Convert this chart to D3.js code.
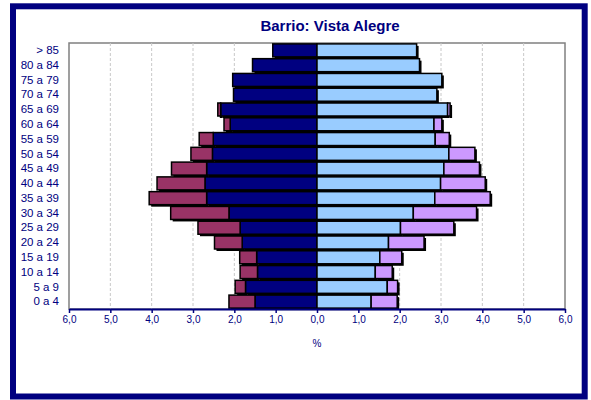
<!DOCTYPE html>
<html><head><meta charset="utf-8">
<script src="https://cdn.jsdelivr.net/npm/d3@7"></script>
<style>body{margin:0;background:#fff}svg{display:block}</style>
</head><body>
<svg id="c" width="591" height="400"></svg>
<script>
const categories = ["> 85","80 a 84","75 a 79","70 a 74","65 a 69","60 a 64","55 a 59","50 a 54","45 a 49","40 a 44","35 a 39","30 a 34","25 a 29","20 a 24","15 a 19","10 a 14","5 a 9","0 a 4"];
const menNational   = [1.07,1.56,2.04,2.02,2.33,2.10,2.51,2.53,2.67,2.71,2.67,2.13,1.86,1.81,1.46,1.44,1.73,1.50];
const menForeign    = [0,0,0,0,0.07,0.15,0.34,0.52,0.85,1.16,1.39,1.41,1.02,0.67,0.41,0.42,0.25,0.63];
const womenNational = [2.41,2.48,3.02,2.90,3.16,2.83,2.86,3.19,3.07,2.99,2.85,2.33,2.02,1.73,1.52,1.41,1.70,1.31];
const womenForeign  = [0,0,0,0,0.06,0.19,0.34,0.63,0.86,1.08,1.34,1.53,1.29,0.86,0.53,0.41,0.25,0.63];
const xTicks = [-6,-5,-4,-3,-2,-1,0,1,2,3,4,5,6];
const title = "Barrio: Vista Alegre";
const xTitle = "%";

const navy = "#000080";
const svg = d3.select("#c");
const L = 69, R = 565, T = 43, B = 309;
const x = d3.scaleLinear().domain([-6,6]).range([L,R]);
const y = d3.scaleBand().domain(categories).range([T,B]).paddingInner(0.12).paddingOuter(0.06);

// outer frame
svg.append("rect").attr("x",13).attr("y",6.3).attr("width",571.7).attr("height",390.2)
  .attr("fill","#fff").attr("stroke",navy).attr("stroke-width",6);

// plot area
svg.append("rect").attr("x",L).attr("y",T).attr("width",R-L).attr("height",B-T)
  .attr("fill","#fff").attr("stroke","#808080").attr("stroke-width",1.5);

// gridlines
svg.append("g").selectAll("line").data(xTicks.filter(v=>v>-6&&v<6&&v!==0)).join("line")
  .attr("x1",d=>x(d)).attr("x2",d=>x(d)).attr("y1",T).attr("y2",B)
  .attr("stroke","#c8c8c8").attr("stroke-width",1).attr("stroke-dasharray","3,2");

// segments
const segs = [];
categories.forEach((c,i)=>{
  segs.push({c, x0:-menNational[i], x1:0, fill:navy});
  if(menForeign[i]>0) segs.push({c, x0:-(menNational[i]+menForeign[i]), x1:-menNational[i], fill:"#993366"});
  segs.push({c, x0:0, x1:womenNational[i], fill:"#99CCFF"});
  if(womenForeign[i]>0) segs.push({c, x0:womenNational[i], x1:womenNational[i]+womenForeign[i], fill:"#CC99FF"});
});
const gb = svg.append("g");
// shadows
gb.selectAll("rect.sh").data(segs).join("rect").attr("class","sh")
  .attr("x",d=>x(d.x0)+2).attr("y",d=>y(d.c)+2)
  .attr("width",d=>x(d.x1)-x(d.x0)).attr("height",y.bandwidth())
  .attr("fill","#000");
gb.selectAll("rect.bar").data(segs).join("rect").attr("class","bar")
  .attr("x",d=>x(d.x0)).attr("y",d=>y(d.c))
  .attr("width",d=>x(d.x1)-x(d.x0)).attr("height",y.bandwidth())
  .attr("fill",d=>d.fill).attr("stroke","#000").attr("stroke-width",1.5);

// x axis
const fmt = v => Math.abs(v).toFixed(1).replace(".",",");
const xa = svg.append("g").attr("transform",`translate(0,${B})`)
  .call(d3.axisBottom(x).tickValues(xTicks).tickFormat(fmt).tickSize(4).tickSizeOuter(0));
xa.select(".domain").attr("stroke",navy).attr("stroke-width",2);
xa.selectAll(".tick line").attr("stroke",navy).attr("stroke-width",1.5);
xa.selectAll(".tick text").attr("fill",navy).attr("font-family","Liberation Sans, Arial, sans-serif").attr("font-size",10).attr("dy","0.9em").attr("y",5);

// y axis labels
const ya = svg.append("g").attr("transform",`translate(${L},0)`)
  .call(d3.axisLeft(y).tickSize(0).tickPadding(10));
ya.select(".domain").remove();
ya.selectAll(".tick text").attr("fill",navy).attr("font-family","Liberation Sans, Arial, sans-serif").attr("font-size",11.5);

// titles
svg.append("text").attr("x",330).attr("y",31).attr("text-anchor","middle")
  .attr("font-family","Liberation Sans, Arial, sans-serif").attr("font-weight","bold").attr("font-size",15)
  .attr("fill",navy).text(title);
svg.append("text").attr("x",x(0)).attr("y",347).attr("text-anchor","middle")
  .attr("font-family","Liberation Sans, Arial, sans-serif").attr("font-size",10)
  .attr("fill",navy).text(xTitle);
</script>
</body></html>
